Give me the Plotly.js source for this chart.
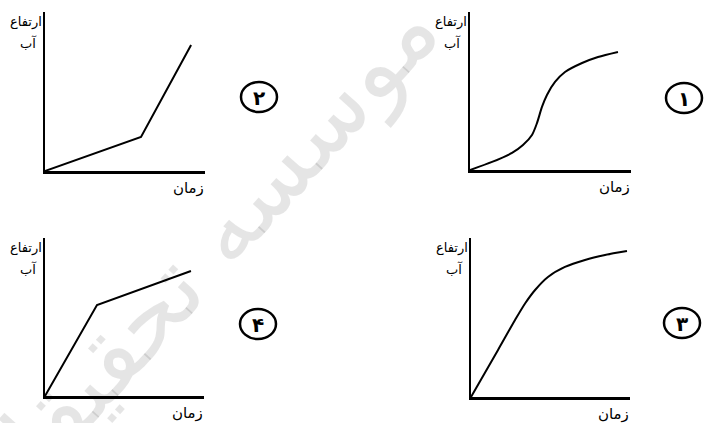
<!DOCTYPE html>
<html>
<head>
<meta charset="utf-8">
<script src="https://cdn.plot.ly/plotly-3.0.1.min.js"></script>
<style>
    html, body { margin: 0; padding: 0; background: #fff; }
    #chart { width: 706px; height: 423px; }
</style>
</head>
<body>
<div id="chart"></div>
<script>
/////
///// Data (axes run 0..10)
/////

// ① S-shaped curve
let curve1X = [0, 1.37, 2.61, 3.29, 3.85, 4.16, 4.47, 4.78, 5.28, 5.90, 6.96, 7.95, 9.19];
let curve1Y = [0, 0.51, 1.08, 1.58, 2.22, 2.97, 3.99, 4.75, 5.57, 6.20, 6.77, 7.15, 7.47];

// ② slow then fast
let curve2X = [0, 6.0, 9.13];
let curve2Y = [0, 2.14, 7.92];

// ③ fast then levelling off
let curve3X = [0, 1.70, 2.77, 3.40, 4.03, 4.84, 5.91, 7.17, 8.43, 9.81];
let curve3Y = [0, 2.96, 4.84, 5.88, 6.73, 7.55, 8.18, 8.62, 8.93, 9.18];

// ④ fast then slow
let curve4X = [0, 3.27, 9.18];
let curve4Y = [0, 5.76, 7.91];

let yLabelTop = "ارتفاع";
let yLabelBottom = "آب";
let xLabel = "زمان";
let optionDigits = ["۱", "۲", "۳", "۴"];
let watermark = "موسسه تحقیقاتی";

/////
///// Layout helpers
/////

let W = 706;
let H = 423;

function px(x) { return x / W; }
function py(y) { return 1 - y / H; }

let font = "DejaVu Sans, Noto Sans, sans-serif";

// panel boxes in pixels: left, right, top, bottom
let panels = [
    { box: [470, 631, 12, 170], circle: [684, 98] },   // ①
    { box: [45, 205, 12, 171], circle: [259, 97] },    // ②
    { box: [471, 630, 238, 397], circle: [682, 323] }, // ③
    { box: [45, 204, 238, 396], circle: [258, 324] }   // ④
];

let curves = [
    [curve1X, curve1Y, 'spline'],
    [curve2X, curve2Y, 'linear'],
    [curve3X, curve3Y, 'spline'],
    [curve4X, curve4Y, 'linear']
];

let traces = [];
let layout = {
    width: W,
    height: H,
    margin: { l: 0, r: 0, t: 0, b: 0 },
    paper_bgcolor: '#fff',
    plot_bgcolor: 'rgba(0,0,0,0)',
    showlegend: false,
    font: { family: font, color: '#000' },
    annotations: [],
    shapes: []
};

for (let i = 0; i < panels.length; i++) {
    let n = i + 1;
    let suffix = n == 1 ? '' : String(n);
    let b = panels[i].box;

    traces.push({
        x: curves[i][0],
        y: curves[i][1],
        xaxis: 'x' + suffix,
        yaxis: 'y' + suffix,
        mode: 'lines',
        type: 'scatter',
        line: { color: '#000', width: 2, shape: curves[i][2], smoothing: 0.8 },
        hoverinfo: 'skip'
    });

    let axisStyle = {
        range: [0, 10],
        showline: true,
        linecolor: '#000',
        linewidth: 2.5,
        showgrid: false,
        zeroline: false,
        showticklabels: false,
        ticks: '',
        fixedrange: true
    };

    layout['xaxis' + suffix] = Object.assign({}, axisStyle, {
        domain: [px(b[0]), px(b[1])],
        anchor: 'y' + suffix
    });
    layout['yaxis' + suffix] = Object.assign({}, axisStyle, {
        domain: [py(b[3]), py(b[2])],
        anchor: 'x' + suffix
    });

    // axis captions
    layout.annotations.push({
        text: yLabelTop, xref: 'paper', yref: 'paper',
        x: px(b[0] - 1), y: py(b[2] + 10), xanchor: 'right', yanchor: 'middle',
        showarrow: false, font: { size: 13 }
    });
    layout.annotations.push({
        text: yLabelBottom, xref: 'paper', yref: 'paper',
        x: px(b[0] - 17), y: py(b[2] + 31), xanchor: 'center', yanchor: 'middle',
        showarrow: false, font: { size: 13 }
    });
    layout.annotations.push({
        text: xLabel, xref: 'paper', yref: 'paper',
        x: px(b[1] + 1), y: py(b[3] + 17), xanchor: 'right', yanchor: 'middle',
        showarrow: false, font: { size: 15 }
    });

    // circled option number
    let c = panels[i].circle;
    layout.shapes.push({
        type: 'circle', xref: 'paper', yref: 'paper',
        x0: px(c[0] - 18), x1: px(c[0] + 18),
        y0: py(c[1] + 15), y1: py(c[1] - 15),
        line: { color: '#000', width: 2.5 }
    });
    layout.annotations.push({
        text: '<b>' + optionDigits[i] + '</b>', xref: 'paper', yref: 'paper',
        x: px(c[0]), y: py(c[1] + 1), xanchor: 'center', yanchor: 'middle',
        showarrow: false, font: { size: 20 }
    });
}

// faint diagonal watermark
layout.annotations.push({
    text: watermark, xref: 'paper', yref: 'paper',
    x: px(185), y: py(272), xanchor: 'center', yanchor: 'middle',
    textangle: -48, showarrow: false,
    font: { size: 96, color: 'rgba(0,0,0,0.1)' }
});

Plotly.newPlot('chart', traces, layout, { staticPlot: true });
</script>
</body>
</html>
